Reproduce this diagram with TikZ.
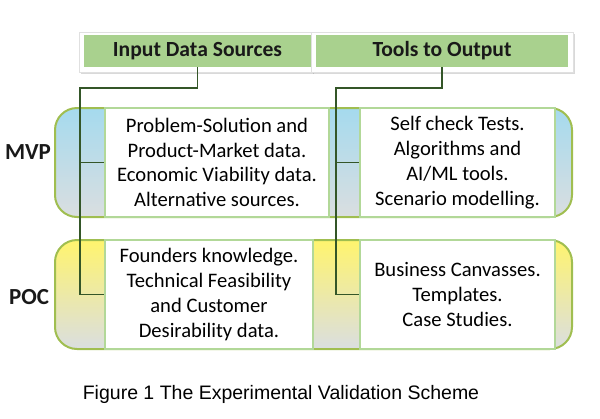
\documentclass[tikz,border=0pt]{standalone}
\usepackage{fontspec}
\setmainfont{Carlito}
\newfontfamily\captionfont{Liberation Sans}
\usetikzlibrary{shadows,backgrounds}
\definecolor{hdrgreen}{RGB}{169,209,142}
\definecolor{bandolive}{RGB}{160,190,80}
\definecolor{boxline}{RGB}{178,216,152}
\definecolor{linkgreen}{RGB}{52,86,40}
\definecolor{capblue}{RGB}{165,218,238}
\definecolor{midblue}{RGB}{212,234,240}
\definecolor{capyellow}{RGB}{255,244,110}
\definecolor{midyellow}{RGB}{255,255,232}
\definecolor{capgray}{RGB}{218,222,224}

\begin{document}
\begin{tikzpicture}[x=0.5pt,y=-0.5pt,
		header/.style={fill=hdrgreen,font=\fontsize{10.8}{13}\selectfont\bfseries,text=black!90,inner sep=0pt,minimum height=16pt},
		hdrframe/.style={fill=white,draw=black!12,line width=0.3pt,drop shadow={opacity=0.3,shadow xshift=0.8pt,shadow yshift=-0.8pt}},
		band/.style={draw=bandolive,line width=1pt,rounded corners=11pt},
		textbox/.style={fill=white,draw=boxline,line width=0.8pt,align=center,inner sep=0pt,minimum height=54.5pt,font=\fontsize{10.3}{12.4}\selectfont},
		stagelabel/.style={font=\fontsize{11.5}{13}\selectfont\bfseries,text=black!90},
		link/.style={draw=linkgreen,line width=0.65pt}]
	\useasboundingbox (0,0) rectangle (600,418);
	\node[header,minimum width=113.5pt] (inhdr) at (197.5,51) {Input Data Sources};
	\node[header,minimum width=126pt] (outhdr) at (442,51) {Tools to Output};
	\begin{scope}[on background layer]
		\draw[hdrframe] ([shift={(-2pt,1pt)}]inhdr.north west) rectangle ([shift={(0.5pt,-2.5pt)}]inhdr.south east);
		\draw[hdrframe] ([shift={(-2pt,1pt)}]outhdr.north west) rectangle ([shift={(2.5pt,-2.5pt)}]outhdr.south east);
	\end{scope}
	\draw[band,top color=capblue,middle color=midblue,bottom color=capgray] (55,108) rectangle (572,217);
	\draw[band,top color=capyellow,middle color=midyellow,bottom color=capgray] (55,240) rectangle (572,349);
	\node[textbox,minimum width=112pt] (mvp1) at (217,162.5) {Problem-Solution and\\Product-Market data.\\Economic Viability data.\\Alternative sources.};
	\node[textbox,minimum width=97.5pt] (mvp2) at (457.5,162.5) {Self check Tests.\\Algorithms and\\AI/ML tools.\\Scenario modelling.};
	\node[textbox,minimum width=104pt] (poc1) at (209,294.5) {Founders knowledge.\\Technical Feasibility\\and Customer\\Desirability data.};
	\node[textbox,minimum width=97.5pt] (poc2) at (457.5,294.5) {Business Canvasses.\\Templates.\\Case Studies.};
	\node[stagelabel] (mvp) at (28,152) {MVP};
	\node[stagelabel] (poc) at (29,297) {POC};
	\coordinate (inbend) at (80,88);
	\coordinate (outbend) at (336,88);
	\draw[link] (inhdr.south) |- (inbend) |- (poc1.west);
	\draw[link] (inbend) |- (mvp1.west);
	\draw[link] (outhdr.south) |- (outbend) |- (poc2.west);
	\draw[link] (outbend) |- (mvp2.west);
	\node[font=\captionfont\fontsize{9.75}{12}\selectfont] (caption) at (281,394) {Figure 1 The Experimental Validation Scheme};
\end{tikzpicture}
\end{document}
